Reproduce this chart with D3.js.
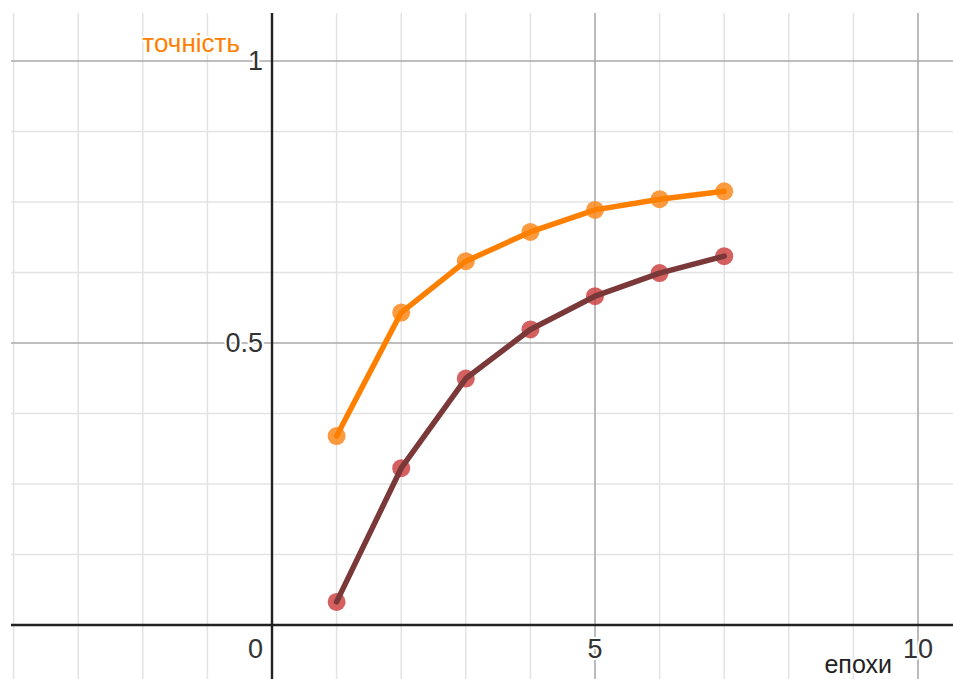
<!DOCTYPE html>
<html><head><meta charset="utf-8">
<script src="https://cdn.jsdelivr.net/npm/d3@7"></script>
<style>body{margin:0;background:#fff}svg{display:block}</style>
</head><body>
<svg id="c" width="953" height="679"></svg>
<script>
const epochs = [1, 2, 3, 4, 5, 6, 7];
const accuracy = [0.335, 0.554, 0.645, 0.697, 0.736, 0.755, 0.769];
const accuracy2 = [0.041, 0.278, 0.437, 0.524, 0.583, 0.624, 0.654];
const xTicks = [5, 10];
const yTicks = [0.5, 1];
const yLabelText = "точність";
const xLabelText = "епохи";

const svg = d3.select("#c");
const L = 11, T = 13, R = 953, B = 679;
const x = d3.scaleLinear().domain([0, 10]).range([272, 918]);
const y = d3.scaleLinear().domain([0, 1]).range([625, 61]);
const x0 = x.invert(L), x1 = x.invert(R), y0 = y.invert(B), y1 = y.invert(T);

const g = svg.append("g");
const minorX = d3.range(Math.ceil(x0), Math.floor(x1) + 1).filter(v => v % 5 !== 0);
const minorY = d3.range(Math.ceil(y0 * 8), Math.floor(y1 * 8) + 1).map(v => v / 8).filter(v => Math.abs(v * 2 - Math.round(v * 2)) > 1e-9);
g.selectAll(".mx").data(minorX).enter().append("line")
  .attr("x1", d => x(d)).attr("x2", d => x(d)).attr("y1", T).attr("y2", B)
  .attr("stroke", "#e3e3e3").attr("stroke-width", 1.5);
g.selectAll(".my").data(minorY).enter().append("line")
  .attr("y1", d => y(d)).attr("y2", d => y(d)).attr("x1", L).attr("x2", R)
  .attr("stroke", "#e3e3e3").attr("stroke-width", 1.5);
const majorX = d3.range(Math.ceil(x0 / 5) * 5, x1, 5).filter(v => v !== 0);
const majorY = d3.range(Math.ceil(y0 * 2) / 2, y1, 0.5).filter(v => v !== 0);
g.selectAll(".Mx").data(majorX).enter().append("line")
  .attr("x1", d => x(d)).attr("x2", d => x(d)).attr("y1", T).attr("y2", B)
  .attr("stroke", "#aaaaaa").attr("stroke-width", 1.6);
g.selectAll(".My").data(majorY).enter().append("line")
  .attr("y1", d => y(d)).attr("y2", d => y(d)).attr("x1", L).attr("x2", R)
  .attr("stroke", "#aaaaaa").attr("stroke-width", 1.6);
g.append("line").attr("x1", x(0)).attr("x2", x(0)).attr("y1", T).attr("y2", B)
  .attr("stroke", "#222").attr("stroke-width", 2.4);
g.append("line").attr("y1", y(0)).attr("y2", y(0)).attr("x1", L).attr("x2", R)
  .attr("stroke", "#222").attr("stroke-width", 2.4);

const font = "'Liberation Sans', Arial, sans-serif";
function label(txt, px, py, anchor, size, color) {
  g.append("text").attr("x", px).attr("y", py).attr("text-anchor", anchor)
    .attr("dominant-baseline", "central").attr("font-family", font)
    .attr("font-size", size).attr("fill", "none").attr("stroke", "#fff")
    .attr("stroke-width", 4).attr("stroke-linejoin", "round").text(txt);
  g.append("text").attr("x", px).attr("y", py).attr("text-anchor", anchor)
    .attr("dominant-baseline", "central").attr("font-family", font)
    .attr("font-size", size).attr("fill", color).text(txt);
}
yTicks.forEach(v => label(String(v), x(0) - 9, y(v), "end", 27, "#333"));
label("0", x(0) - 9, y(0) + 24, "end", 27, "#333");
xTicks.forEach(v => label(String(v), x(v), y(0) + 24, "middle", 27, "#333"));
label(yLabelText, 240, 43, "end", 26, "#ff8000");
label(xLabelText, 892, 664, "end", 25, "#222");

function series(vals, dot, lineC) {
  const pts = epochs.map((e, i) => [e, vals[i]]);
  g.append("g").selectAll("circle").data(pts).enter().append("circle")
    .attr("cx", d => x(d[0])).attr("cy", d => y(d[1])).attr("r", 9)
    .attr("fill", dot).attr("opacity", 0.85);
  g.append("path").datum(pts)
    .attr("d", d3.line().x(d => x(d[0])).y(d => y(d[1])))
    .attr("fill", "none").attr("stroke", lineC).attr("stroke-width", 5.5)
    .attr("stroke-linejoin", "round").attr("stroke-linecap", "round");
}
series(accuracy, "#f98a1e", "#ff8000");
series(accuracy2, "#cc4444", "#7a3838");
</script>
</body></html>
